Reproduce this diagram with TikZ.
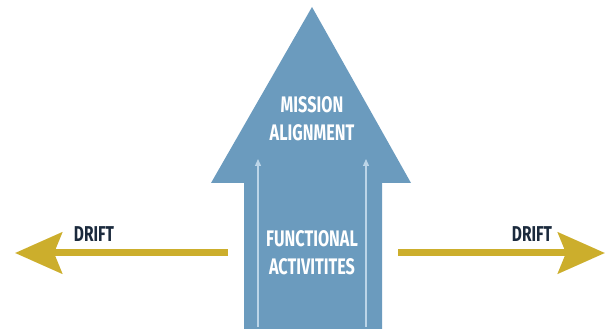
\documentclass[tikz,border=0pt]{standalone}
\usepackage{fontspec}
\newfontfamily\labelfont[FakeStretch=0.72]{Fira Sans Bold}
\usetikzlibrary{arrows.meta}
\definecolor{steel}{HTML}{6B9BBE}
\definecolor{paleblue}{HTML}{BCD5E8}
\definecolor{gold}{HTML}{CCAE2C}
\definecolor{navy}{HTML}{1B2A3D}
\tikzset{
  bigarrow/.style={fill=steel, draw=none},
  flowline/.style={draw=paleblue, line width=1.3pt, -{Triangle[length=7pt,width=6pt]}},
  driftline/.style={draw=gold, line width=7pt, -{Stealth[length=47pt,width=41pt,inset=8pt]}},
  whitelabel/.style={text=white, font=\labelfont\fontsize{22.5}{26}\selectfont, align=center, inner sep=0pt},
  driftlabel/.style={text=navy, font=\labelfont\fontsize{21.5}{24}\selectfont, inner sep=0pt}
}
\begin{document}
\begin{tikzpicture}[x=1pt,y=-1pt]
  \useasboundingbox (0,0) rectangle (606,331);
  % upward arrow
  \path[bigarrow] (312,7) -- (411,183) -- (382,183) -- (382,329) -- (244,329)
    -- (244,183) -- (211,183) -- cycle;
  % thin arrows inside the shaft
  \coordinate (fl1s) at (258,327);
  \coordinate (fl1e) at (258,159);
  \coordinate (fl2s) at (366,327);
  \coordinate (fl2e) at (366,159);
  \draw[flowline] (fl1s) -- (fl1e);
  \draw[flowline] (fl2s) -- (fl2e);
  % labels in the arrow
  \node[whitelabel] (mission) at (312,119) {MISSION\\[2pt]ALIGNMENT};
  \node[whitelabel] (functional) at (312,253) {FUNCTIONAL\\[2pt]ACTIVITITES};
  % drift arrows
  \coordinate (lstart) at (228,253);
  \coordinate (ltip) at (15,253);
  \coordinate (rstart) at (398,253);
  \coordinate (rtip) at (605,253);
  \draw[driftline] (lstart) -- (ltip);
  \draw[driftline] (rstart) -- (rtip);
  \node[driftlabel] (dleft) at (94,234) {DRIFT};
  \node[driftlabel] (dright) at (532,234) {DRIFT};
\end{tikzpicture}
\end{document}
